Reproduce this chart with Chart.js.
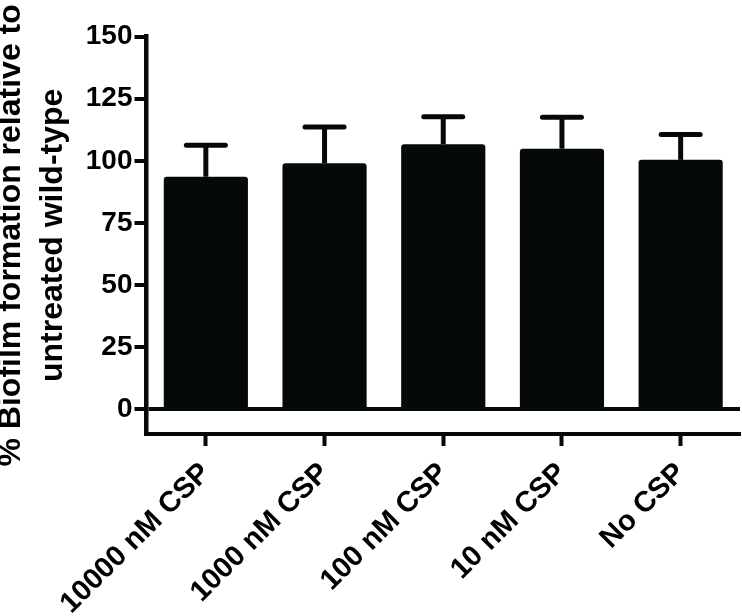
<!DOCTYPE html>
<html>
<head>
<meta charset="utf-8">
<script src="https://cdn.jsdelivr.net/npm/chart.js@4"></script>
<style>
  html, body { margin:0; padding:0; background:#fff; }
  #wrap { width:742px; height:616px; }
</style>
</head>
<body>
<div id="wrap"><canvas id="biofilmChart" width="742" height="616"></canvas></div>
<script>
/* ---------- Data ---------- */
const categories = ['10000 nM CSP', '1000 nM CSP', '100 nM CSP', '10 nM CSP', 'No CSP'];
const means = [93.6, 99.0, 106.7, 104.9, 100.4];
const errUp = [12.7, 14.6, 11.1, 12.7, 10.2];
const yTicks = [0, 25, 50, 75, 100, 125, 150];
const yTitle = ['% Biofilm formation relative to', 'untreated wild-type'];

const INK = '#050909';
const FONT = "'Liberation Sans', Arial, Helvetica, sans-serif";

/* ---------- Error bars (upper only, Prism style) ---------- */
const errorBars = {
  id: 'errorBars',
  afterDatasetsDraw(chart){
    const ctx = chart.ctx;
    const y = chart.scales.y;
    const bars = chart.getDatasetMeta(0).data;
    ctx.save();
    ctx.strokeStyle = INK;
    ctx.lineWidth = 5;
    bars.forEach((b, i) => {
      const top = y.getPixelForValue(means[i] + errUp[i]);
      ctx.lineCap = 'butt';
      ctx.beginPath(); ctx.moveTo(b.x, b.y); ctx.lineTo(b.x, top); ctx.stroke();
      ctx.lineCap = 'round';
      ctx.beginPath(); ctx.moveTo(b.x - 19.5, top); ctx.lineTo(b.x + 19.5, top); ctx.stroke();
    });
    ctx.restore();
  }
};

/* ---------- Chart ---------- */
new Chart(document.getElementById('biofilmChart'), {
  type: 'bar',
  data: {
    labels: categories,
    datasets: [{
      data: means,
      backgroundColor: INK,
      borderWidth: 0,
      borderRadius: 3,
      categoryPercentage: 1,
      barPercentage: 0.709
    }]
  },
  options: {
    responsive: false,
    animation: false,
    layout: { padding: { top: 36.7, right: 2, left: 0, bottom: 0 } },
    plugins: { legend: { display: false }, tooltip: { enabled: false } },
    scales: {
      x: {
        grid: { offset: false, drawOnChartArea: false, tickLength: 12, tickWidth: 4, tickColor: INK },
        border: { color: INK, width: 4 },
        ticks: {
          color: '#000', autoSkip: false, minRotation: 45, maxRotation: 45, padding: 10,
          font: { family: FONT, size: 29, weight: 'bold' }
        },
        afterFit: s => { s.height = 182; }
      },
      y: {
        min: -10, max: 150,
        afterBuildTicks: s => { s.ticks = yTicks.map(v => ({ value: v })); },
        afterFit: s => { s.width = 146.5; },
        grid: {
          color: c => (c.tick && c.tick.value === 0) ? INK : 'rgba(0,0,0,0)',
          lineWidth: 4, tickLength: 12, tickWidth: 4, tickColor: INK
        },
        border: { color: INK, width: 4.5 },
        ticks: { color: '#000', padding: 2, font: { family: FONT, size: 28, weight: 'bold' } },
        title: {
          display: true, text: yTitle, color: '#000',
          padding: { top: -10, bottom: 0 },
          font: { family: FONT, size: 32, weight: 'bold', lineHeight: 1.31 }
        }
      }
    }
  },
  plugins: [errorBars]
});
</script>
</body>
</html>
